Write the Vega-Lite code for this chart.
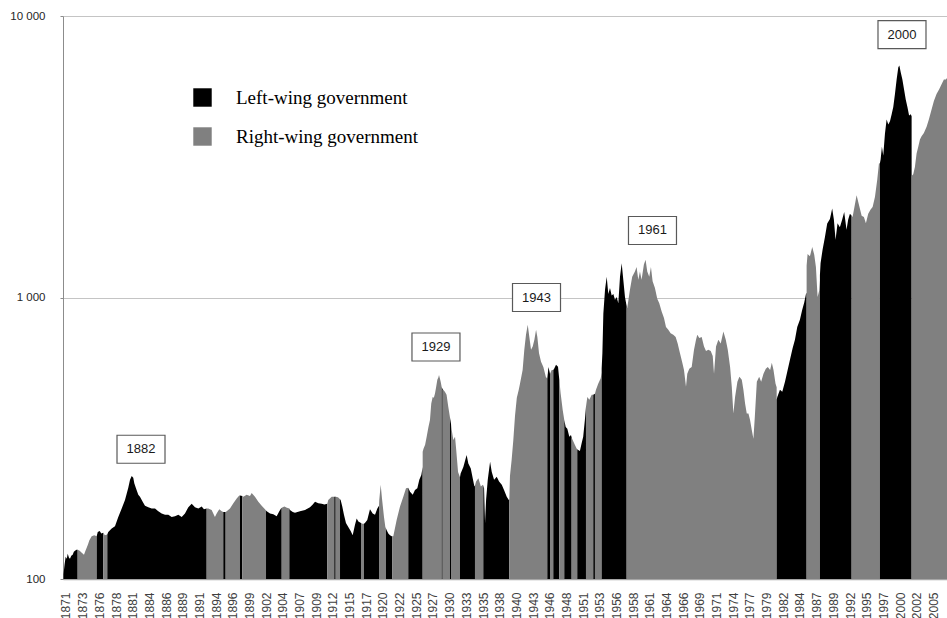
{
  "$schema": "https://vega.github.io/schema/vega-lite/v6.json",
  "autosize": "none",
  "width": 884,
  "height": 563,
  "padding": {"left": 63, "top": 16, "right": 0, "bottom": 39},
  "background": "white",
  "config": {
    "view": {"stroke": null},
    "font": "Liberation Sans",
    "axisX": {"labelOverlap": false, "labelSeparation": 0}
  },
  "datasets": {
    "index": [
      {"s":1,"g":"L","t":1870.7,"v":104},{"s":1,"g":"L","t":1870.85,"v":112},{"s":1,"g":"L","t":1871.03,"v":120},{"s":1,"g":"L","t":1871.2,"v":118},{"s":1,"g":"L","t":1871.35,"v":123},{"s":1,"g":"L","t":1871.55,"v":119},{"s":1,"g":"L","t":1871.7,"v":118},{"s":1,"g":"L","t":1871.9,"v":121},{"s":1,"g":"L","t":1872.12,"v":122},{"s":1,"g":"L","t":1872.3,"v":125},{"s":1,"g":"L","t":1872.48,"v":126},{"s":1,"g":"L","t":1872.7,"v":127},{"s":1,"g":"L","t":1872.89,"v":127},
      {"s":2,"g":"R","t":1872.89,"v":127},{"s":2,"g":"R","t":1873.2,"v":126},{"s":2,"g":"R","t":1873.52,"v":124},{"s":2,"g":"R","t":1873.87,"v":122},{"s":2,"g":"R","t":1874.1,"v":126},{"s":2,"g":"R","t":1874.29,"v":129},{"s":2,"g":"R","t":1874.5,"v":133},{"s":2,"g":"R","t":1874.69,"v":137},{"s":2,"g":"R","t":1875.06,"v":142},{"s":2,"g":"R","t":1875.46,"v":143},{"s":2,"g":"R","t":1875.84,"v":142},
      {"s":3,"g":"L","t":1875.84,"v":142},{"s":3,"g":"L","t":1876.0,"v":147},{"s":3,"g":"L","t":1876.3,"v":148},{"s":3,"g":"L","t":1876.55,"v":145},{"s":3,"g":"L","t":1876.86,"v":146},
      {"s":4,"g":"R","t":1876.86,"v":146},{"s":4,"g":"R","t":1877.1,"v":143},{"s":4,"g":"R","t":1877.48,"v":144},
      {"s":5,"g":"L","t":1877.48,"v":144},{"s":5,"g":"L","t":1877.63,"v":147},{"s":5,"g":"L","t":1878.16,"v":151},{"s":5,"g":"L","t":1878.67,"v":154},{"s":5,"g":"L","t":1879.18,"v":166},{"s":5,"g":"L","t":1879.71,"v":178},{"s":5,"g":"L","t":1880.22,"v":191},{"s":5,"g":"L","t":1880.73,"v":211},{"s":5,"g":"L","t":1881.0,"v":225},{"s":5,"g":"L","t":1881.26,"v":232},{"s":5,"g":"L","t":1881.5,"v":229},{"s":5,"g":"L","t":1881.66,"v":219},{"s":5,"g":"L","t":1881.92,"v":210},{"s":5,"g":"L","t":1882.28,"v":199},{"s":5,"g":"L","t":1882.54,"v":196},{"s":5,"g":"L","t":1882.96,"v":188},{"s":5,"g":"L","t":1883.32,"v":182},{"s":5,"g":"L","t":1883.83,"v":180},{"s":5,"g":"L","t":1884.35,"v":178},{"s":5,"g":"L","t":1884.87,"v":178},{"s":5,"g":"L","t":1885.38,"v":174},{"s":5,"g":"L","t":1885.9,"v":171},{"s":5,"g":"L","t":1886.42,"v":169},{"s":5,"g":"L","t":1886.93,"v":169},{"s":5,"g":"L","t":1887.45,"v":166},{"s":5,"g":"L","t":1887.96,"v":167},{"s":5,"g":"L","t":1888.48,"v":169},{"s":5,"g":"L","t":1889.0,"v":166},{"s":5,"g":"L","t":1889.51,"v":171},{"s":5,"g":"L","t":1890.03,"v":180},{"s":5,"g":"L","t":1890.55,"v":185},{"s":5,"g":"L","t":1891.06,"v":180},{"s":5,"g":"L","t":1891.58,"v":178},{"s":5,"g":"L","t":1892.1,"v":181},{"s":5,"g":"L","t":1892.45,"v":177},{"s":5,"g":"L","t":1892.87,"v":178},
      {"s":6,"g":"R","t":1892.87,"v":178},{"s":6,"g":"R","t":1893.12,"v":178},{"s":6,"g":"R","t":1893.64,"v":176},{"s":6,"g":"R","t":1894.15,"v":166},{"s":6,"g":"R","t":1894.42,"v":171},{"s":6,"g":"R","t":1894.82,"v":177},{"s":6,"g":"R","t":1895.2,"v":174},{"s":6,"g":"R","t":1895.44,"v":173},
      {"s":7,"g":"L","t":1895.44,"v":173},{"s":7,"g":"L","t":1895.81,"v":173},
      {"s":8,"g":"R","t":1895.81,"v":173},{"s":8,"g":"R","t":1895.97,"v":174},{"s":8,"g":"R","t":1896.48,"v":178},{"s":8,"g":"R","t":1897.0,"v":186},{"s":8,"g":"R","t":1897.52,"v":193},{"s":8,"g":"R","t":1897.92,"v":198},{"s":8,"g":"R","t":1898.03,"v":198},
      {"s":9,"g":"L","t":1898.03,"v":198},{"s":9,"g":"L","t":1898.39,"v":197},
      {"s":10,"g":"R","t":1898.39,"v":197},{"s":10,"g":"R","t":1898.54,"v":196},{"s":10,"g":"R","t":1899.06,"v":199},{"s":10,"g":"R","t":1899.58,"v":197},{"s":10,"g":"R","t":1899.84,"v":202},{"s":10,"g":"R","t":1900.35,"v":196},{"s":10,"g":"R","t":1900.87,"v":188},{"s":10,"g":"R","t":1901.39,"v":182},{"s":10,"g":"R","t":1901.9,"v":177},{"s":10,"g":"R","t":1902.06,"v":175},
      {"s":11,"g":"L","t":1902.06,"v":175},{"s":11,"g":"L","t":1902.17,"v":174},{"s":11,"g":"L","t":1902.68,"v":171},{"s":11,"g":"L","t":1903.19,"v":170},{"s":11,"g":"L","t":1903.71,"v":167},{"s":11,"g":"L","t":1904.12,"v":174},{"s":11,"g":"L","t":1904.38,"v":178},{"s":11,"g":"L","t":1904.49,"v":179},
      {"s":12,"g":"R","t":1904.49,"v":179},{"s":12,"g":"R","t":1904.9,"v":181},{"s":12,"g":"R","t":1905.3,"v":179},{"s":12,"g":"R","t":1905.67,"v":178},
      {"s":13,"g":"L","t":1905.67,"v":178},{"s":13,"g":"L","t":1905.77,"v":176},{"s":13,"g":"L","t":1906.2,"v":173},{"s":13,"g":"L","t":1906.55,"v":172},{"s":13,"g":"L","t":1907.32,"v":174},{"s":13,"g":"L","t":1908.1,"v":176},{"s":13,"g":"L","t":1908.87,"v":180},{"s":13,"g":"L","t":1909.3,"v":184},{"s":13,"g":"L","t":1909.65,"v":188},{"s":13,"g":"L","t":1910.16,"v":186},{"s":13,"g":"L","t":1910.69,"v":185},{"s":13,"g":"L","t":1911.1,"v":184},{"s":13,"g":"L","t":1911.55,"v":185},
      {"s":14,"g":"R","t":1911.55,"v":185},{"s":14,"g":"R","t":1911.7,"v":191},{"s":14,"g":"R","t":1912.23,"v":196},{"s":14,"g":"R","t":1912.63,"v":196},
      {"s":15,"g":"L","t":1912.63,"v":196},{"s":15,"g":"L","t":1912.85,"v":196},
      {"s":16,"g":"R","t":1912.85,"v":196},{"s":16,"g":"R","t":1913.2,"v":195},{"s":16,"g":"R","t":1913.52,"v":192},
      {"s":17,"g":"L","t":1913.52,"v":192},{"s":17,"g":"L","t":1913.62,"v":191},{"s":17,"g":"L","t":1913.87,"v":181},{"s":17,"g":"L","t":1914.13,"v":169},{"s":17,"g":"L","t":1914.44,"v":158},{"s":17,"g":"L","t":1914.8,"v":153},{"s":17,"g":"L","t":1915.17,"v":148},{"s":17,"g":"L","t":1915.48,"v":143},{"s":17,"g":"L","t":1915.84,"v":156},{"s":17,"g":"L","t":1916.1,"v":164},{"s":17,"g":"L","t":1916.36,"v":160},{"s":17,"g":"L","t":1916.77,"v":158},
      {"s":18,"g":"R","t":1916.77,"v":158},{"s":18,"g":"R","t":1917.0,"v":157},{"s":18,"g":"R","t":1917.23,"v":157},
      {"s":19,"g":"L","t":1917.23,"v":157},{"s":19,"g":"L","t":1917.38,"v":158},{"s":19,"g":"L","t":1917.74,"v":162},{"s":19,"g":"L","t":1918.16,"v":177},{"s":19,"g":"L","t":1918.58,"v":171},{"s":19,"g":"L","t":1918.94,"v":169},{"s":19,"g":"L","t":1919.3,"v":178},{"s":19,"g":"L","t":1919.56,"v":182},
      {"s":20,"g":"R","t":1919.56,"v":182},{"s":20,"g":"R","t":1919.6,"v":191},{"s":20,"g":"R","t":1919.82,"v":216},{"s":20,"g":"R","t":1920.02,"v":193},{"s":20,"g":"R","t":1920.33,"v":166},{"s":20,"g":"R","t":1920.54,"v":153},{"s":20,"g":"R","t":1920.64,"v":151},
      {"s":21,"g":"L","t":1920.64,"v":151},{"s":21,"g":"L","t":1920.75,"v":149},{"s":21,"g":"L","t":1921.0,"v":145},{"s":21,"g":"L","t":1921.26,"v":143},{"s":21,"g":"L","t":1921.52,"v":142},{"s":21,"g":"L","t":1921.62,"v":142},
      {"s":22,"g":"R","t":1921.62,"v":142},{"s":22,"g":"R","t":1921.77,"v":142},{"s":22,"g":"R","t":1922.29,"v":162},{"s":22,"g":"R","t":1922.81,"v":181},{"s":22,"g":"R","t":1923.32,"v":196},{"s":22,"g":"R","t":1923.74,"v":210},{"s":22,"g":"R","t":1924.09,"v":211},
      {"s":23,"g":"L","t":1924.09,"v":211},{"s":23,"g":"L","t":1924.36,"v":204},{"s":23,"g":"L","t":1924.78,"v":199},{"s":23,"g":"L","t":1925.13,"v":207},{"s":23,"g":"L","t":1925.49,"v":210},{"s":23,"g":"L","t":1925.8,"v":225},{"s":23,"g":"L","t":1926.11,"v":234},{"s":23,"g":"L","t":1926.32,"v":250},
      {"s":24,"g":"R","t":1926.32,"v":283},{"s":24,"g":"R","t":1926.45,"v":290},{"s":24,"g":"R","t":1926.7,"v":300},{"s":24,"g":"R","t":1926.94,"v":320},{"s":24,"g":"R","t":1927.2,"v":345},{"s":24,"g":"R","t":1927.45,"v":367},{"s":24,"g":"R","t":1927.65,"v":420},{"s":24,"g":"R","t":1927.87,"v":443},{"s":24,"g":"R","t":1928.05,"v":440},{"s":24,"g":"R","t":1928.23,"v":456},{"s":24,"g":"R","t":1928.4,"v":480},{"s":24,"g":"R","t":1928.59,"v":510},{"s":24,"g":"R","t":1928.75,"v":520},{"s":24,"g":"R","t":1928.85,"v":531},{"s":24,"g":"R","t":1929.0,"v":515},{"s":24,"g":"R","t":1929.11,"v":502},{"s":24,"g":"R","t":1929.27,"v":480},
      {"s":25,"g":"L","t":1929.27,"v":480},{"s":25,"g":"L","t":1929.42,"v":472},
      {"s":26,"g":"R","t":1929.42,"v":472},{"s":26,"g":"R","t":1929.5,"v":470},{"s":26,"g":"R","t":1929.76,"v":463},{"s":26,"g":"R","t":1930.02,"v":451},{"s":26,"g":"R","t":1930.28,"v":410},{"s":26,"g":"R","t":1930.55,"v":375},
      {"s":27,"g":"L","t":1930.55,"v":375},{"s":27,"g":"L","t":1930.71,"v":355},
      {"s":28,"g":"R","t":1930.71,"v":355},{"s":28,"g":"R","t":1930.82,"v":338},{"s":28,"g":"R","t":1931.07,"v":312},{"s":28,"g":"R","t":1931.33,"v":320},{"s":28,"g":"R","t":1931.5,"v":290},{"s":28,"g":"R","t":1931.8,"v":240},{"s":28,"g":"R","t":1932.1,"v":230},
      {"s":29,"g":"L","t":1932.1,"v":230},{"s":29,"g":"L","t":1932.2,"v":237},{"s":29,"g":"L","t":1932.62,"v":250},{"s":29,"g":"L","t":1932.98,"v":268},{"s":29,"g":"L","t":1933.13,"v":276},{"s":29,"g":"L","t":1933.39,"v":257},{"s":29,"g":"L","t":1933.77,"v":247},{"s":29,"g":"L","t":1934.07,"v":228},{"s":29,"g":"L","t":1934.33,"v":213},{"s":29,"g":"L","t":1934.42,"v":215},
      {"s":30,"g":"R","t":1934.42,"v":215},{"s":30,"g":"R","t":1934.59,"v":222},{"s":30,"g":"R","t":1934.95,"v":228},{"s":30,"g":"R","t":1935.33,"v":213},{"s":30,"g":"R","t":1935.64,"v":216},{"s":30,"g":"R","t":1935.71,"v":215},
      {"s":31,"g":"L","t":1935.71,"v":215},{"s":31,"g":"L","t":1935.83,"v":210},{"s":31,"g":"L","t":1935.98,"v":158},{"s":31,"g":"L","t":1936.14,"v":191},{"s":31,"g":"L","t":1936.4,"v":225},{"s":31,"g":"L","t":1936.76,"v":261},{"s":31,"g":"L","t":1937.02,"v":240},{"s":31,"g":"L","t":1937.38,"v":225},{"s":31,"g":"L","t":1937.79,"v":231},{"s":31,"g":"L","t":1938.15,"v":222},{"s":31,"g":"L","t":1938.57,"v":216},{"s":31,"g":"L","t":1938.92,"v":207},{"s":31,"g":"L","t":1939.34,"v":196},{"s":31,"g":"L","t":1939.65,"v":191},{"s":31,"g":"L","t":1939.74,"v":192},
      {"s":32,"g":"R","t":1939.74,"v":192},{"s":32,"g":"R","t":1939.84,"v":232},{"s":32,"g":"R","t":1940.1,"v":265},{"s":32,"g":"R","t":1940.35,"v":310},{"s":32,"g":"R","t":1940.62,"v":380},{"s":32,"g":"R","t":1940.9,"v":440},{"s":32,"g":"R","t":1941.2,"v":470},{"s":32,"g":"R","t":1941.39,"v":494},{"s":32,"g":"R","t":1941.8,"v":553},{"s":32,"g":"R","t":1942.06,"v":652},{"s":32,"g":"R","t":1942.32,"v":737},{"s":32,"g":"R","t":1942.59,"v":800},{"s":32,"g":"R","t":1942.84,"v":724},{"s":32,"g":"R","t":1943.1,"v":652},{"s":32,"g":"R","t":1943.36,"v":670},{"s":32,"g":"R","t":1943.62,"v":708},{"s":32,"g":"R","t":1943.88,"v":768},{"s":32,"g":"R","t":1944.08,"v":724},{"s":32,"g":"R","t":1944.34,"v":634},{"s":32,"g":"R","t":1944.65,"v":591},{"s":32,"g":"R","t":1945.01,"v":566},{"s":32,"g":"R","t":1945.39,"v":523},{"s":32,"g":"R","t":1945.62,"v":515},
      {"s":33,"g":"L","t":1945.62,"v":515},{"s":33,"g":"L","t":1945.8,"v":566},{"s":33,"g":"L","t":1946.04,"v":536},
      {"s":34,"g":"R","t":1946.04,"v":536},{"s":34,"g":"R","t":1946.3,"v":553},{"s":34,"g":"R","t":1946.55,"v":553},
      {"s":35,"g":"L","t":1946.55,"v":553},{"s":35,"g":"L","t":1946.7,"v":560},{"s":35,"g":"L","t":1946.97,"v":577},{"s":35,"g":"L","t":1947.28,"v":568},{"s":35,"g":"L","t":1947.48,"v":510},
      {"s":36,"g":"R","t":1947.48,"v":510},{"s":36,"g":"R","t":1947.69,"v":456},{"s":36,"g":"R","t":1948.0,"v":399},{"s":36,"g":"R","t":1948.25,"v":367},
      {"s":37,"g":"L","t":1948.25,"v":367},{"s":37,"g":"L","t":1948.47,"v":347},{"s":37,"g":"L","t":1948.72,"v":342},{"s":37,"g":"L","t":1949.03,"v":320},{"s":37,"g":"L","t":1949.29,"v":325},{"s":37,"g":"L","t":1949.39,"v":318},
      {"s":38,"g":"R","t":1949.39,"v":318},{"s":38,"g":"R","t":1949.55,"v":312},{"s":38,"g":"R","t":1949.9,"v":299},{"s":38,"g":"R","t":1950.16,"v":291},{"s":38,"g":"R","t":1950.26,"v":289},
      {"s":39,"g":"L","t":1950.26,"v":289},{"s":39,"g":"L","t":1950.41,"v":287},{"s":39,"g":"L","t":1950.67,"v":285},{"s":39,"g":"L","t":1950.93,"v":303},{"s":39,"g":"L","t":1951.18,"v":320},{"s":39,"g":"L","t":1951.44,"v":367},{"s":39,"g":"L","t":1951.61,"v":409},
      {"s":40,"g":"R","t":1951.61,"v":409},{"s":40,"g":"R","t":1951.82,"v":443},{"s":40,"g":"R","t":1952.13,"v":433},{"s":40,"g":"R","t":1952.5,"v":451},{"s":40,"g":"R","t":1952.74,"v":451},
      {"s":41,"g":"L","t":1952.74,"v":451},{"s":41,"g":"L","t":1953.0,"v":455},
      {"s":42,"g":"R","t":1953.0,"v":455},{"s":42,"g":"R","t":1953.16,"v":470},{"s":42,"g":"R","t":1953.52,"v":495},{"s":42,"g":"R","t":1953.89,"v":517},{"s":42,"g":"R","t":1954.04,"v":540},
      {"s":43,"g":"L","t":1954.04,"v":560},{"s":43,"g":"L","t":1954.15,"v":634},{"s":43,"g":"L","t":1954.3,"v":875},{"s":43,"g":"L","t":1954.56,"v":1066},{"s":43,"g":"L","t":1954.82,"v":1185},{"s":43,"g":"L","t":1955.07,"v":1030},{"s":43,"g":"L","t":1955.33,"v":1080},{"s":43,"g":"L","t":1955.59,"v":1017},{"s":43,"g":"L","t":1955.85,"v":1030},{"s":43,"g":"L","t":1956.1,"v":982},{"s":43,"g":"L","t":1956.36,"v":1005},{"s":43,"g":"L","t":1956.62,"v":955},{"s":43,"g":"L","t":1956.88,"v":1185},{"s":43,"g":"L","t":1957.14,"v":1323},{"s":43,"g":"L","t":1957.39,"v":1157},{"s":43,"g":"L","t":1957.65,"v":1005},{"s":43,"g":"L","t":1957.91,"v":930},
      {"s":44,"g":"R","t":1957.91,"v":917},{"s":44,"g":"R","t":1958.0,"v":917},{"s":44,"g":"R","t":1958.42,"v":1066},{"s":44,"g":"R","t":1958.77,"v":1185},{"s":44,"g":"R","t":1959.19,"v":1236},{"s":44,"g":"R","t":1959.45,"v":1284},{"s":44,"g":"R","t":1959.71,"v":1157},{"s":44,"g":"R","t":1959.97,"v":1236},{"s":44,"g":"R","t":1960.22,"v":1157},{"s":44,"g":"R","t":1960.58,"v":1310},{"s":44,"g":"R","t":1960.84,"v":1363},{"s":44,"g":"R","t":1961.1,"v":1236},{"s":44,"g":"R","t":1961.41,"v":1185},{"s":44,"g":"R","t":1961.67,"v":1284},{"s":44,"g":"R","t":1961.93,"v":1142},{"s":44,"g":"R","t":1962.29,"v":1080},{"s":44,"g":"R","t":1962.65,"v":990},{"s":44,"g":"R","t":1962.96,"v":955},{"s":44,"g":"R","t":1963.33,"v":891},{"s":44,"g":"R","t":1963.69,"v":846},{"s":44,"g":"R","t":1964.0,"v":786},{"s":44,"g":"R","t":1964.36,"v":768},{"s":44,"g":"R","t":1964.72,"v":746},{"s":44,"g":"R","t":1965.13,"v":737},{"s":44,"g":"R","t":1965.5,"v":724},{"s":44,"g":"R","t":1965.81,"v":686},{"s":44,"g":"R","t":1966.17,"v":634},{"s":44,"g":"R","t":1966.53,"v":586},{"s":44,"g":"R","t":1966.79,"v":553},{"s":44,"g":"R","t":1967.1,"v":482},{"s":44,"g":"R","t":1967.3,"v":536},{"s":44,"g":"R","t":1967.61,"v":558},{"s":44,"g":"R","t":1967.98,"v":566},{"s":44,"g":"R","t":1968.34,"v":652},{"s":44,"g":"R","t":1968.65,"v":708},{"s":44,"g":"R","t":1968.85,"v":737},{"s":44,"g":"R","t":1969.16,"v":718},{"s":44,"g":"R","t":1969.53,"v":724},{"s":44,"g":"R","t":1969.89,"v":670},{"s":44,"g":"R","t":1970.2,"v":645},{"s":44,"g":"R","t":1970.56,"v":652},{"s":44,"g":"R","t":1970.93,"v":645},{"s":44,"g":"R","t":1971.24,"v":620},{"s":44,"g":"R","t":1971.44,"v":536},{"s":44,"g":"R","t":1971.75,"v":670},{"s":44,"g":"R","t":1972.11,"v":708},{"s":44,"g":"R","t":1972.48,"v":686},{"s":44,"g":"R","t":1972.89,"v":757},{"s":44,"g":"R","t":1973.26,"v":708},{"s":44,"g":"R","t":1973.57,"v":652},{"s":44,"g":"R","t":1973.93,"v":566},{"s":44,"g":"R","t":1974.19,"v":482},{"s":44,"g":"R","t":1974.44,"v":387},{"s":44,"g":"R","t":1974.7,"v":443},{"s":44,"g":"R","t":1975.06,"v":502},{"s":44,"g":"R","t":1975.37,"v":523},{"s":44,"g":"R","t":1975.74,"v":510},{"s":44,"g":"R","t":1975.99,"v":470},{"s":44,"g":"R","t":1976.25,"v":420},{"s":44,"g":"R","t":1976.51,"v":387},{"s":44,"g":"R","t":1976.77,"v":387},{"s":44,"g":"R","t":1977.02,"v":367},{"s":44,"g":"R","t":1977.28,"v":339},{"s":44,"g":"R","t":1977.54,"v":315},{"s":44,"g":"R","t":1977.76,"v":377},{"s":44,"g":"R","t":1978.07,"v":502},{"s":44,"g":"R","t":1978.43,"v":523},{"s":44,"g":"R","t":1978.74,"v":502},{"s":44,"g":"R","t":1979.1,"v":536},{"s":44,"g":"R","t":1979.46,"v":558},{"s":44,"g":"R","t":1979.77,"v":566},{"s":44,"g":"R","t":1980.13,"v":553},{"s":44,"g":"R","t":1980.39,"v":586},{"s":44,"g":"R","t":1980.65,"v":553},{"s":44,"g":"R","t":1980.96,"v":495},{"s":44,"g":"R","t":1981.14,"v":480},
      {"s":45,"g":"L","t":1981.14,"v":433},{"s":45,"g":"L","t":1981.24,"v":443},{"s":45,"g":"L","t":1981.65,"v":470},{"s":45,"g":"L","t":1982.01,"v":463},{"s":45,"g":"L","t":1982.43,"v":502},{"s":45,"g":"L","t":1982.78,"v":545},{"s":45,"g":"L","t":1983.2,"v":601},{"s":45,"g":"L","t":1983.61,"v":660},{"s":45,"g":"L","t":1983.97,"v":708},{"s":45,"g":"L","t":1984.33,"v":786},{"s":45,"g":"L","t":1984.74,"v":834},{"s":45,"g":"L","t":1985.1,"v":905},{"s":45,"g":"L","t":1985.41,"v":960},{"s":45,"g":"L","t":1985.68,"v":1030},{"s":45,"g":"L","t":1985.78,"v":1040},
      {"s":46,"g":"R","t":1985.78,"v":1300},{"s":46,"g":"R","t":1985.93,"v":1427},{"s":46,"g":"R","t":1986.29,"v":1400},{"s":46,"g":"R","t":1986.65,"v":1513},{"s":46,"g":"R","t":1986.96,"v":1420},{"s":46,"g":"R","t":1987.22,"v":1284},{"s":46,"g":"R","t":1987.48,"v":1005},{"s":46,"g":"R","t":1987.73,"v":1060},{"s":46,"g":"R","t":1987.84,"v":1150},
      {"s":47,"g":"L","t":1987.84,"v":1200},{"s":47,"g":"L","t":1987.94,"v":1323},{"s":47,"g":"L","t":1988.25,"v":1479},{"s":47,"g":"L","t":1988.61,"v":1637},{"s":47,"g":"L","t":1988.97,"v":1830},{"s":47,"g":"L","t":1989.39,"v":1900},{"s":47,"g":"L","t":1989.74,"v":2070},{"s":47,"g":"L","t":1990.0,"v":1891},{"s":47,"g":"L","t":1990.26,"v":1605},{"s":47,"g":"L","t":1990.57,"v":1834},{"s":47,"g":"L","t":1990.93,"v":1776},{"s":47,"g":"L","t":1991.29,"v":1891},{"s":47,"g":"L","t":1991.6,"v":2012},{"s":47,"g":"L","t":1991.96,"v":1742},{"s":47,"g":"L","t":1992.22,"v":1891},{"s":47,"g":"L","t":1992.49,"v":1985},{"s":47,"g":"L","t":1992.75,"v":1950},
      {"s":48,"g":"R","t":1992.75,"v":1950},{"s":48,"g":"R","t":1992.9,"v":1930},{"s":48,"g":"R","t":1993.52,"v":2310},{"s":48,"g":"R","t":1993.92,"v":2120},{"s":48,"g":"R","t":1994.3,"v":1952},{"s":48,"g":"R","t":1994.65,"v":1930},{"s":48,"g":"R","t":1994.96,"v":1834},{"s":48,"g":"R","t":1995.32,"v":1985},{"s":48,"g":"R","t":1995.69,"v":2052},{"s":48,"g":"R","t":1996.0,"v":2095},{"s":48,"g":"R","t":1996.36,"v":2275},{"s":48,"g":"R","t":1996.72,"v":2623},{"s":48,"g":"R","t":1996.98,"v":2990},{"s":48,"g":"R","t":1997.13,"v":3000},
      {"s":49,"g":"L","t":1997.13,"v":3000},{"s":49,"g":"L","t":1997.24,"v":3090},{"s":49,"g":"L","t":1997.44,"v":3430},{"s":49,"g":"L","t":1997.65,"v":3193},{"s":49,"g":"L","t":1997.91,"v":3820},{"s":49,"g":"L","t":1998.17,"v":4287},{"s":49,"g":"L","t":1998.43,"v":4115},{"s":49,"g":"L","t":1998.69,"v":4230},{"s":49,"g":"L","t":1998.95,"v":4480},{"s":49,"g":"L","t":1999.2,"v":4753},{"s":49,"g":"L","t":1999.46,"v":5281},{"s":49,"g":"L","t":1999.72,"v":5948},{"s":49,"g":"L","t":1999.98,"v":6580},{"s":49,"g":"L","t":2000.14,"v":6670},{"s":49,"g":"L","t":2000.36,"v":6300},{"s":49,"g":"L","t":2000.61,"v":5948},{"s":49,"g":"L","t":2000.87,"v":5481},{"s":49,"g":"L","t":2001.13,"v":5050},{"s":49,"g":"L","t":2001.39,"v":4753},{"s":49,"g":"L","t":2001.65,"v":4430},{"s":49,"g":"L","t":2001.91,"v":4480},{"s":49,"g":"L","t":2002.04,"v":4400},
      {"s":50,"g":"R","t":2002.04,"v":2700},{"s":50,"g":"R","t":2002.29,"v":2740},{"s":50,"g":"R","t":2002.55,"v":2910},{"s":50,"g":"R","t":2002.81,"v":3250},{"s":50,"g":"R","t":2003.07,"v":3430},{"s":50,"g":"R","t":2003.33,"v":3640},{"s":50,"g":"R","t":2003.58,"v":3740},{"s":50,"g":"R","t":2003.94,"v":3840},{"s":50,"g":"R","t":2004.36,"v":4040},{"s":50,"g":"R","t":2004.71,"v":4287},{"s":50,"g":"R","t":2005.13,"v":4653},{"s":50,"g":"R","t":2005.49,"v":4985},{"s":50,"g":"R","t":2005.9,"v":5281},{"s":50,"g":"R","t":2006.31,"v":5497},{"s":50,"g":"R","t":2006.68,"v":5720},{"s":50,"g":"R","t":2007.04,"v":5950},{"s":50,"g":"R","t":2007.35,"v":5948},{"s":50,"g":"R","t":2007.7,"v":6100}
    ],
    "notes": [
      {"label": "1882", "t": 1882.7, "v": 289},
      {"label": "1929", "t": 1928.38, "v": 667},
      {"label": "1943", "t": 1943.95, "v": 1000},
      {"label": "1961", "t": 1961.91, "v": 1730},
      {"label": "2000", "t": 2000.55, "v": 8590}
    ]
  },
  "layer": [
    {
      "data": {"name": "index"},
      "mark": {"type": "area", "clip": true, "interpolate": "linear"},
      "encoding": {
        "x": {
          "field": "t",
          "type": "quantitative",
          "scale": {"domain": [1870.62, 2007.52], "nice": false, "zero": false},
          "axis": {
            "title": null,
            "grid": false,
            "ticks": false,
            "tickCount": 200,
            "values": [1871.0833, 1873.6667, 1876.25, 1878.8333, 1881.4167, 1884.0, 1886.5833, 1889.1667, 1891.75, 1894.3333, 1896.9167, 1899.5, 1902.0833, 1904.6667, 1907.25, 1909.8333, 1912.4167, 1915.0, 1917.5833, 1920.1667, 1922.75, 1925.3333, 1927.9167, 1930.5, 1933.0833, 1935.6667, 1938.25, 1940.8333, 1943.4167, 1946.0, 1948.5833, 1951.1667, 1953.75, 1956.3333, 1958.9167, 1961.5, 1964.0833, 1966.6667, 1969.25, 1971.8333, 1974.4167, 1977.0, 1979.5833, 1982.1667, 1984.75, 1987.3333, 1989.9167, 1992.5, 1995.0833, 1997.6667, 2000.25, 2002.8333, 2005.4167],
            "labelExpr": "floor(datum.value)",
            "labelAngle": -90,
            "labelFont": "Liberation Sans",
            "labelFontSize": 12,
            "labelColor": "#404040",
            "labelPadding": 13,
            "labelOverlap": false,
            "labelSeparation": 0,
            "labelBound": false,
            "labelFlush": false,
            "domainColor": "#a6a6a6",
            "domainWidth": 1.5
          }
        },
        "y": {
          "field": "v",
          "type": "quantitative",
          "stack": null,
          "scale": {"type": "log", "domain": [100, 10000], "nice": false},
          "axis": {
            "title": null,
            "values": [100, 1000, 10000],
            "labelExpr": "replace(format(datum.value, ','), ',', ' ')",
            "labelFont": "Liberation Sans",
            "labelFontSize": 11.5,
            "labelColor": "#262626",
            "labelPadding": 15,
            "tickSize": 3,
            "tickColor": "#8c8c8c",
            "grid": true,
            "gridColor": "#c4c4c4",
            "domainColor": "#8c8c8c"
          }
        },
        "y2": {"datum": 100},
        "detail": {"field": "s", "type": "nominal"},
        "color": {
          "field": "g",
          "type": "nominal",
          "scale": {"domain": ["L", "R"], "range": ["#000000", "#808080"]},
          "legend": {
            "title": null,
            "orient": "none",
            "legendX": 130,
            "legendY": 72,
            "padding": 0,
            "symbolType": "square",
            "symbolSize": 340,
            "symbolStrokeWidth": 0,
            "symbolOpacity": 1,
            "labelFont": "Liberation Serif",
            "labelFontSize": 19,
            "labelLimit": 400,
            "labelColor": "#000000",
            "labelOffset": 24,
            "rowPadding": 19,
            "labelExpr": "datum.label == 'L' ? 'Left-wing government' : 'Right-wing government'"
          }
        }
      }
    },
    {
      "data": {"name": "notes"},
      "mark": {
        "type": "point",
        "shape": "M-1,-0.5833H1V0.5833H-1Z",
        "size": 2304,
        "filled": true,
        "fill": "#ffffff",
        "stroke": "#595959",
        "strokeWidth": 1.2,
        "opacity": 1
      },
      "encoding": {
        "x": {"field": "t", "type": "quantitative"},
        "y": {"field": "v", "type": "quantitative"}
      }
    },
    {
      "data": {"name": "notes"},
      "mark": {
        "type": "text",
        "font": "Liberation Sans",
        "fontSize": 13,
        "color": "#1a1a1a",
        "align": "center",
        "baseline": "middle"
      },
      "encoding": {
        "x": {"field": "t", "type": "quantitative"},
        "y": {"field": "v", "type": "quantitative"},
        "text": {"field": "label", "type": "nominal"}
      }
    }
  ]
}
